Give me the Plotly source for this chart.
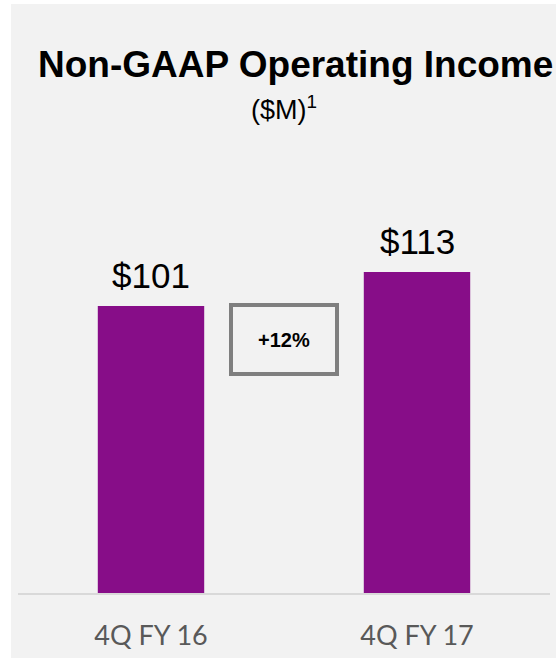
import plotly.graph_objects as go

categories = ["4Q FY 16", "4Q FY 17"]
values = [101, 113]
value_labels = ["$101", "$113"]
growth_label = "+12%"
title_text = "Non-GAAP Operating Income"
subtitle_text = "($M)<sup>1</sup>"

W, H = 556, 660
ML, MR, MT, MB = 18, 6, 130, 67
PW, PH = W - ML - MR, H - MT - MB
YMAX = 163.0


def px(x):
    return (x - ML) / PW


def py(y):
    return (H - MB - y) / PH


BAR = "#870d88"
fig = go.Figure()
fig.add_trace(go.Bar(x=categories, y=values, marker=dict(color=BAR, line=dict(width=0)),
                     width=0.40, hoverinfo="skip"))

# panel background
fig.add_shape(type="rect", xref="paper", yref="paper", x0=px(11), x1=px(557), y0=py(658), y1=py(4),
              fillcolor="#f2f2f2", line=dict(width=0), layer="below")

# growth box
fig.add_shape(type="rect", xref="paper", yref="paper", x0=px(231), x1=px(337), y0=py(374), y1=py(305),
              fillcolor="rgba(0,0,0,0)", line=dict(color="#7f7f7f", width=4))
fig.add_annotation(xref="paper", yref="paper", x=px(283.5), y=py(340), text="<b>" + growth_label + "</b>",
                   showarrow=False, xanchor="center", yanchor="middle",
                   font=dict(family="Liberation Sans, Arial", size=20, color="#000000"))

for c, v, t in zip(categories, values, value_labels):
    fig.add_annotation(x=c, y=v, text=t, showarrow=False, xanchor="center", yanchor="bottom", yshift=9,
                       font=dict(family="Liberation Sans, Arial", size=35, color="#000000"))

fig.add_annotation(xref="paper", yref="paper", x=px(295), y=py(64), text="<b>" + title_text + "</b>",
                   showarrow=False, xanchor="center", yanchor="middle",
                   font=dict(family="Liberation Sans, Arial", size=37, color="#000000"))
fig.add_annotation(xref="paper", yref="paper", x=px(284), y=py(108), text=subtitle_text,
                   showarrow=False, xanchor="center", yanchor="middle",
                   font=dict(family="Liberation Sans, Arial", size=27, color="#000000"))

fig.update_layout(
    width=W, height=H,
    margin=dict(l=ML, r=MR, t=MT, b=MB),
    paper_bgcolor="#ffffff", plot_bgcolor="rgba(0,0,0,0)",
    showlegend=False, bargap=0.6,
    xaxis=dict(range=[-0.5, 1.5], showgrid=False, zeroline=False, showline=True, automargin=False,
               linecolor="#d9d9d9", linewidth=1.5, ticks="", ticklabelstandoff=18,
               tickfont=dict(family="Lato", size=27, color="#595959")),
    yaxis=dict(range=[0, YMAX], visible=False, showgrid=False, zeroline=False, automargin=False),
)

fig.write_html("out.html")
